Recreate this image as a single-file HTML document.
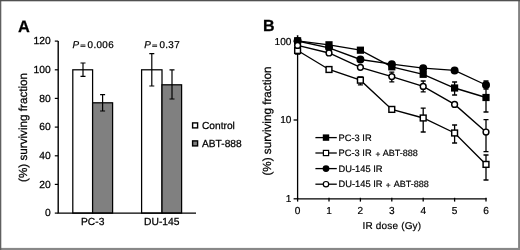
<!DOCTYPE html>
<html><head><meta charset="utf-8"><title>Figure</title>
<style>
html,body{margin:0;padding:0;background:#fff;}
body{width:520px;height:250px;overflow:hidden;position:relative;font-family:"Liberation Sans",sans-serif;}
svg{position:absolute;left:0;top:0;display:block;}
text{text-rendering:geometricPrecision;font-family:"Liberation Sans",sans-serif;fill:#000;stroke:#000;stroke-width:0.25px;}
text.lg{stroke-width:0.2px;}
text.eq{stroke-width:0.25px;}
</style></head><body>
<svg width="520" height="250" viewBox="0 0 520 250">
<rect x="0" y="0" width="520" height="250" fill="#fff"/>
<!-- frame -->
<rect x="518.1" y="0" width="1.9" height="250" fill="#828282"/>
<rect x="0" y="247.9" width="520" height="2.1" fill="#888"/>
<rect x="0" y="0" width="1.3" height="250" fill="#606060"/>
<rect x="0" y="0" width="520" height="1.3" fill="#505050"/>

<g id="panelA" stroke="#000" stroke-width="1.2" fill="none">
<text x="18" y="31.5" font-size="16.4" font-weight="bold">A</text>
<rect x="72.8" y="69.8" width="19.8" height="143.3" fill="#fff" stroke="#000" stroke-width="1.25"/>
<rect x="92.6" y="102.8" width="20.0" height="110.3" fill="#808080" stroke="#000" stroke-width="1.25"/>
<rect x="141.6" y="69.8" width="20.4" height="143.3" fill="#fff" stroke="#000" stroke-width="1.25"/>
<rect x="162" y="84.8" width="19.6" height="128.3" fill="#808080" stroke="#000" stroke-width="1.25"/>
<path d="M83 63V76.4M80.5 63H85.5M80.5 76.4H85.5"/>
<path d="M102.6 94.6V111M100.1 94.6H105.1M100.1 111H105.1"/>
<path d="M151.8 53.6V86M149.3 53.6H154.3M149.3 86H154.3"/>
<path d="M172 69.8V99M169.5 69.8H174.5M169.5 99H174.5"/>
<path d="M58.2 41.1V213.1H196" stroke-width="1.4"/>
<path d="M54.8 213.1H58.2"/>
<text x="50.8" y="216.4" font-size="10.3" text-anchor="end">0</text>
<path d="M54.8 184.4H58.2"/>
<text x="50.8" y="187.7" font-size="10.3" text-anchor="end">20</text>
<path d="M54.8 155.8H58.2"/>
<text x="50.8" y="159.1" font-size="10.3" text-anchor="end">40</text>
<path d="M54.8 127.1H58.2"/>
<text x="50.8" y="130.4" font-size="10.3" text-anchor="end">60</text>
<path d="M54.8 98.4H58.2"/>
<text x="50.8" y="101.7" font-size="10.3" text-anchor="end">80</text>
<path d="M54.8 69.8H58.2"/>
<text x="50.8" y="73.0" font-size="10.3" text-anchor="end">100</text>
<path d="M54.8 41.1H58.2"/>
<text x="50.8" y="44.4" font-size="10.3" text-anchor="end">120</text>
<text x="92.7" y="225" font-size="10.3" text-anchor="middle">PC-3</text>
<text x="161.8" y="225" font-size="10.3" text-anchor="middle">DU-145</text>
<text x="72.4" y="47.5" font-size="9.9" font-style="italic">P</text>
<text transform="translate(80.25,47.6) scale(1.4,1)" class="eq" font-size="6.6">=</text>
<text x="87.6" y="47.5" font-size="9.8" letter-spacing="0.38">0.006</text>
<text x="144.2" y="47.5" font-size="9.9" font-style="italic">P</text>
<text transform="translate(152.05,47.6) scale(1.4,1)" class="eq" font-size="6.6">=</text>
<text x="159.4" y="47.5" font-size="9.8" letter-spacing="0.38">0.37</text>
<text transform="translate(27.3,182) rotate(-90)" font-size="11.7">(%) surviving fraction</text>
<rect x="192.6" y="122.9" width="5" height="5" fill="#fff" stroke-width="1.4"/>
<rect x="192.6" y="140.9" width="5" height="5" fill="#808080" stroke-width="1.4"/>
<text x="202" y="128.8" font-size="10.2">Control</text>
<text x="202" y="146.6" font-size="10.2">ABT-888</text>
</g>
<g id="panelB" stroke="#000" stroke-width="1.3" fill="none">
<text x="263" y="31.2" font-size="16" font-weight="bold">B</text>
<path d="M297.6 41.2V198.8H486.6" stroke-width="1.3"/>
<path d="M293.6 41.2H297.6"/>
<text x="291.4" y="44.6" class="lg" font-size="10.1" text-anchor="end">100</text>
<path d="M293.6 120H297.6"/>
<text x="291.4" y="123.4" class="lg" font-size="10.1" text-anchor="end">10</text>
<path d="M293.6 198.8H297.6"/>
<text x="291.4" y="202.2" class="lg" font-size="10.1" text-anchor="end">1</text>
<path d="M297.6 197.8V201.6"/>
<text x="297.6" y="213.5" class="lg" font-size="10.1" text-anchor="middle">0</text>
<path d="M329 197.8V201.6"/>
<text x="329" y="213.5" class="lg" font-size="10.1" text-anchor="middle">1</text>
<path d="M360.4 197.8V201.6"/>
<text x="360.4" y="213.5" class="lg" font-size="10.1" text-anchor="middle">2</text>
<path d="M391.8 197.8V201.6"/>
<text x="391.8" y="213.5" class="lg" font-size="10.1" text-anchor="middle">3</text>
<path d="M423.2 197.8V201.6"/>
<text x="423.2" y="213.5" class="lg" font-size="10.1" text-anchor="middle">4</text>
<path d="M454.6 197.8V201.6"/>
<text x="454.6" y="213.5" class="lg" font-size="10.1" text-anchor="middle">5</text>
<path d="M486 197.8V201.6"/>
<text x="486" y="213.5" class="lg" font-size="10.1" text-anchor="middle">6</text>
<text x="391.9" y="228.7" class="lg" font-size="10" letter-spacing="0.18" text-anchor="middle">IR dose (Gy)</text>
<text transform="translate(271,175.6) rotate(-90)" font-size="11.7">(%) surviving fraction</text>
<path d="M297.6 35.8V45M296.8 35.8H298.4M296.8 45H298.4"/>
<path d="M454.6 82V95M452.1 82H457.1M452.1 95H457.1"/>
<path d="M486 84V112M483.5 84H488.5M483.5 112H488.5"/>
<polyline points="297.6,40.8 329,44.8 360.4,50.2 391.8,66.8 423.2,74.3 454.6,88 486,97.5" stroke-width="1.35"/>
<rect x="294.0" y="37.2" width="7.2" height="7.2" fill="#000" stroke="none"/>
<rect x="325.4" y="41.2" width="7.2" height="7.2" fill="#000" stroke="none"/>
<rect x="356.8" y="46.6" width="7.2" height="7.2" fill="#000" stroke="none"/>
<rect x="388.2" y="63.2" width="7.2" height="7.2" fill="#000" stroke="none"/>
<rect x="419.6" y="70.7" width="7.2" height="7.2" fill="#000" stroke="none"/>
<rect x="451.0" y="84.4" width="7.2" height="7.2" fill="#000" stroke="none"/>
<rect x="482.4" y="93.9" width="7.2" height="7.2" fill="#000" stroke="none"/>
<path d="M297.6 47V54M295.1 47H300.1M295.1 54H300.1"/>
<path d="M360.4 77V84.9M357.9 77H362.9M357.9 84.9H362.9"/>
<path d="M423.2 108.2V132M420.7 108.2H425.7M420.7 132H425.7"/>
<path d="M454.6 125V143M452.1 125H457.1M452.1 143H457.1"/>
<path d="M486 155V180M483.5 155H488.5M483.5 180H488.5"/>
<polyline points="297.6,50.5 329,69.5 360.4,80.2 391.8,109.4 423.2,118 454.6,133 486,164.4" stroke-width="1.35"/>
<rect x="294.7" y="47.6" width="5.8" height="5.8" fill="#fff" stroke-width="1.45"/>
<rect x="326.1" y="66.6" width="5.8" height="5.8" fill="#fff" stroke-width="1.45"/>
<rect x="357.5" y="77.3" width="5.8" height="5.8" fill="#fff" stroke-width="1.45"/>
<rect x="388.9" y="106.5" width="5.8" height="5.8" fill="#fff" stroke-width="1.45"/>
<rect x="420.3" y="115.1" width="5.8" height="5.8" fill="#fff" stroke-width="1.45"/>
<rect x="451.7" y="130.1" width="5.8" height="5.8" fill="#fff" stroke-width="1.45"/>
<rect x="483.1" y="161.5" width="5.8" height="5.8" fill="#fff" stroke-width="1.45"/>
<path d="M486 81V89M483.5 81H488.5M483.5 89H488.5"/>
<polyline points="297.6,41 329,47.8 360.4,59.5 391.8,64.2 423.2,68.2 454.6,70.4 486,85" stroke-width="1.35"/>
<circle cx="297.6" cy="41" r="4" fill="#000" stroke="none"/>
<circle cx="329" cy="47.8" r="4" fill="#000" stroke="none"/>
<circle cx="360.4" cy="59.5" r="4" fill="#000" stroke="none"/>
<circle cx="391.8" cy="64.2" r="4" fill="#000" stroke="none"/>
<circle cx="423.2" cy="68.2" r="4" fill="#000" stroke="none"/>
<circle cx="454.6" cy="70.4" r="4" fill="#000" stroke="none"/>
<circle cx="486" cy="85" r="4" fill="#000" stroke="none"/>
<path d="M391.8 72.2V81.8M389.3 72.2H394.3M389.3 81.8H394.3"/>
<path d="M423.2 81V91.8M420.7 81H425.7M420.7 91.8H425.7"/>
<path d="M486 119.6V151.6M483.5 119.6H488.5M483.5 151.6H488.5"/>
<polyline points="297.6,45.4 329,53 360.4,67.3 391.8,76.6 423.2,86.4 454.6,104.4 486,132" stroke-width="1.35"/>
<circle cx="297.6" cy="45.4" r="2.9" fill="#fff" stroke-width="1.45"/>
<circle cx="329" cy="53" r="2.9" fill="#fff" stroke-width="1.45"/>
<circle cx="360.4" cy="67.3" r="2.9" fill="#fff" stroke-width="1.45"/>
<circle cx="391.8" cy="76.6" r="2.9" fill="#fff" stroke-width="1.45"/>
<circle cx="423.2" cy="86.4" r="2.9" fill="#fff" stroke-width="1.45"/>
<circle cx="454.6" cy="104.4" r="2.9" fill="#fff" stroke-width="1.45"/>
<circle cx="486" cy="132" r="2.9" fill="#fff" stroke-width="1.45"/>
<path d="M315.4 137.6H336.8"/>
<rect x="322.8" y="134.4" width="6.4" height="6.4" fill="#000" stroke="none"/>
<text x="338.6" y="140.7" class="lg" font-size="9.3">PC-3 IR</text>
<path d="M315.4 153H336.8"/>
<rect x="323.4" y="150.4" width="5.2" height="5.2" fill="#fff" stroke-width="1.2"/>
<text x="338.6" y="156.1" class="lg" font-size="9.3">PC-3 IR<tspan x="375.6" font-size="8.4" dy="0.4">+</tspan><tspan x="382.7" dy="-0.4" font-size="9.05">ABT-888</tspan></text>
<path d="M315.4 168.6H336.8"/>
<circle cx="326" cy="168.6" r="3.4" fill="#000" stroke="none"/>
<text x="338.6" y="171.7" class="lg" font-size="9.3">DU-145 IR</text>
<path d="M315.4 184.2H336.8"/>
<circle cx="326" cy="184.2" r="2.7" fill="#fff" stroke-width="1.2"/>
<text x="338.6" y="187.3" class="lg" font-size="9.3">DU-145 IR<tspan x="385.7" font-size="8.4" dy="0.4">+</tspan><tspan x="393.7" dy="-0.4" font-size="9.05">ABT-888</tspan></text>
</g>
</svg>
</body></html>
